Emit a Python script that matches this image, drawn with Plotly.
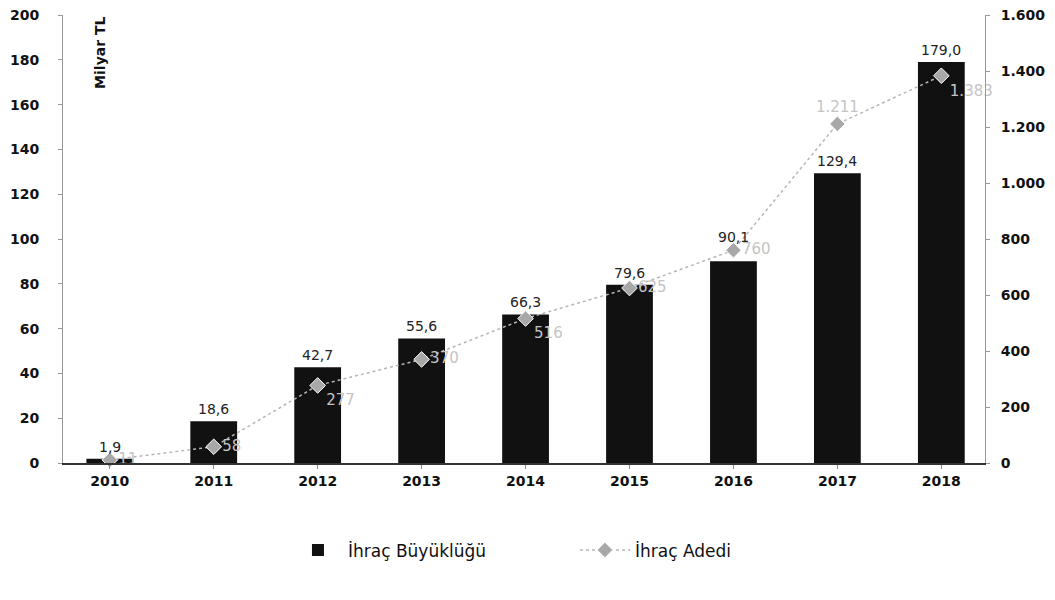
import plotly.graph_objects as go

years = ["2010", "2011", "2012", "2013", "2014", "2015", "2016", "2017", "2018"]
ihrac_buyuklugu = [1.9, 18.6, 42.7, 55.6, 66.3, 79.6, 90.1, 129.4, 179.0]
ihrac_buyuklugu_labels = ["1,9", "18,6", "42,7", "55,6", "66,3", "79,6", "90,1", "129,4", "179,0"]
ihrac_adedi = [11, 58, 277, 370, 516, 625, 760, 1211, 1383]
ihrac_adedi_labels = ["11", "58", "277", "370", "516", "625", "760", "1.211", "1.383"]
left_ticks = [0, 20, 40, 60, 80, 100, 120, 140, 160, 180, 200]
right_ticks = [0, 200, 400, 600, 800, 1000, 1200, 1400, 1600]
right_tick_labels = ["0", "200", "400", "600", "800", "1.000", "1.200", "1.400", "1.600"]

FONT = "DejaVu Sans"

fig = go.Figure()
fig.add_trace(go.Bar(
    x=years, y=ihrac_buyuklugu, name="İhraç Büyüklüğü",
    marker=dict(color="#111111", line=dict(width=0)),
    yaxis="y",
))
fig.add_trace(go.Scatter(
    x=years, y=ihrac_adedi, name="İhraç Adedi", yaxis="y2",
    mode="lines+markers+text",
    line=dict(color="#b5b5b5", width=1.5, dash="dot"),
    marker=dict(symbol="diamond", size=12, color="#a8a8a8",
                line=dict(color="#ffffff", width=1)),
    text=ihrac_adedi_labels,
    textposition=["middle right", "middle right", "bottom right", "middle right",
                  "bottom right", "middle right", "middle right", "top center",
                  "bottom right"],
    textfont=dict(family=FONT, size=15, color="#c4c4c4"),
    cliponaxis=False,
))

# bar value labels as annotations so they can sit a little higher
bar_label_shift = [12, 12, 12, 12, 12, 12, 24, 12, 12]
annotations = []
for i, (v, lab, sh) in enumerate(zip(ihrac_buyuklugu, ihrac_buyuklugu_labels, bar_label_shift)):
    annotations.append(dict(
        x=i, y=v, xref="x", yref="y", text=lab, showarrow=False,
        yshift=sh, font=dict(family=FONT, size=14, color="#222222"),
    ))
annotations.append(dict(
    text="Milyar TL", xref="paper", yref="paper", x=0.04, y=1.0,
    xanchor="center", yanchor="top", textangle=-90, showarrow=False,
    font=dict(family=FONT, size=14, color="#111111", weight=600),
))

fig.update_layout(
    width=1055, height=600,
    paper_bgcolor="white", plot_bgcolor="white",
    margin=dict(l=55, r=78, t=7, b=145, autoexpand=False),
    font=dict(family=FONT, color="#111111"),
    bargap=0.55,
    showlegend=True,
    legend=dict(orientation="h", x=0.244, xanchor="left", y=-0.155, yanchor="top",
                font=dict(family=FONT, size=17, color="#111111"),
                entrywidth=222, entrywidthmode="pixels",
                itemwidth=50, traceorder="normal"),
    xaxis=dict(
        type="category", showgrid=False, range=[-0.45, 8.42], automargin=False,
        showline=True, linecolor="#333333", linewidth=1.5,
        ticks="outside", ticklen=4, tickcolor="#888888",
        tickfont=dict(family=FONT, size=14, color="#111111", weight=600),
    ),
    yaxis=dict(
        range=[0, 200], tickvals=left_ticks, showgrid=False, zeroline=False,
        automargin=False,
        showline=True, linecolor="#999999", linewidth=1,
        ticks="outside", ticklen=4, tickcolor="#999999",
        tickfont=dict(family=FONT, size=14, color="#111111", weight=600),
        ticklabelstandoff=16, ticklabeloverflow="allow",
    ),
    yaxis2=dict(
        range=[0, 1600], tickvals=right_ticks, ticktext=right_tick_labels,
        overlaying="y", side="right", showgrid=False, zeroline=False,
        automargin=False,
        showline=True, linecolor="#999999", linewidth=1,
        ticks="outside", ticklen=4, tickcolor="#999999",
        tickfont=dict(family=FONT, size=14, color="#111111", weight=600),
        ticklabelstandoff=8, ticklabeloverflow="allow",
    ),
    annotations=annotations,
)

fig.write_html("out.html")
